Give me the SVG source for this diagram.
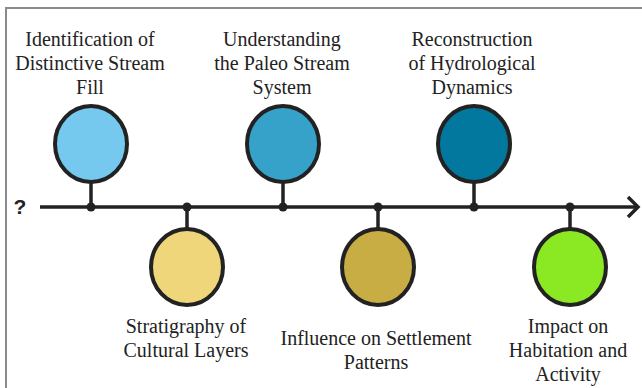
<svg xmlns="http://www.w3.org/2000/svg" width="642" height="388" viewBox="0 0 642 388">
<style>
.lbl{font-family:"Liberation Serif","Times New Roman",serif;font-size:20px;fill:#222;text-anchor:middle}
.node{stroke:#222;stroke-width:4}
.stem{stroke:#222;stroke-width:3.5;fill:none}
.dot{fill:#222}
</style>
<rect width="642" height="388" fill="#fff"/>
<rect x="6" y="8" width="700" height="500" fill="none" stroke="#8a8a8a" stroke-width="2"/>
<text x="20" y="214" font-family="Liberation Sans,Arial,sans-serif" font-size="21" font-weight="bold" fill="#222" text-anchor="middle">?</text>
<g id="connectors">
<line class="stem" x1="40" y1="207" x2="636" y2="207"/>
<polyline class="stem" points="628,197 638,207 628,217" stroke-linejoin="miter"/>
<line class="stem" x1="91" y1="182" x2="91" y2="207"/>
<line class="stem" x1="187" y1="207" x2="187" y2="229"/>
<line class="stem" x1="283" y1="182" x2="283" y2="207"/>
<line class="stem" x1="378" y1="207" x2="378" y2="229"/>
<line class="stem" x1="474" y1="182" x2="474" y2="207"/>
<line class="stem" x1="570" y1="207" x2="570" y2="229"/>
<circle class="dot" cx="91" cy="207" r="4.5"/>
<circle class="dot" cx="187" cy="207" r="4.5"/>
<circle class="dot" cx="283" cy="207" r="4.5"/>
<circle class="dot" cx="378" cy="207" r="4.5"/>
<circle class="dot" cx="474" cy="207" r="4.5"/>
<circle class="dot" cx="570" cy="207" r="4.5"/>
</g>
<g id="n1">
<ellipse class="node" cx="91" cy="144" rx="36" ry="38" fill="#75C8EE"/>
<text class="lbl" x="90" y="46">Identification of</text>
<text class="lbl" x="90" y="70">Distinctive Stream</text>
<text class="lbl" x="90" y="94">Fill</text>
</g>
<g id="n2">
<ellipse class="node" cx="187" cy="267" rx="36" ry="38" fill="#F0D67A"/>
<text class="lbl" x="186" y="333">Stratigraphy of</text>
<text class="lbl" x="186" y="357">Cultural Layers</text>
</g>
<g id="n3">
<ellipse class="node" cx="283" cy="144" rx="36" ry="38" fill="#37A2C9"/>
<text class="lbl" x="282" y="46">Understanding</text>
<text class="lbl" x="282" y="70">the Paleo Stream</text>
<text class="lbl" x="282" y="94">System</text>
</g>
<g id="n4">
<ellipse class="node" cx="378" cy="267" rx="36" ry="38" fill="#C8AC44"/>
<text class="lbl" x="376" y="345">Influence on Settlement</text>
<text class="lbl" x="376" y="369">Patterns</text>
</g>
<g id="n5">
<ellipse class="node" cx="474" cy="144" rx="36" ry="38" fill="#02789E"/>
<text class="lbl" x="472" y="46">Reconstruction</text>
<text class="lbl" x="472" y="70">of Hydrological</text>
<text class="lbl" x="472" y="94">Dynamics</text>
</g>
<g id="n6">
<ellipse class="node" cx="570" cy="267" rx="36" ry="38" fill="#8BE924"/>
<text class="lbl" x="568" y="333">Impact on</text>
<text class="lbl" x="568" y="357">Habitation and</text>
<text class="lbl" x="568" y="381">Activity</text>
</g>
</svg>
